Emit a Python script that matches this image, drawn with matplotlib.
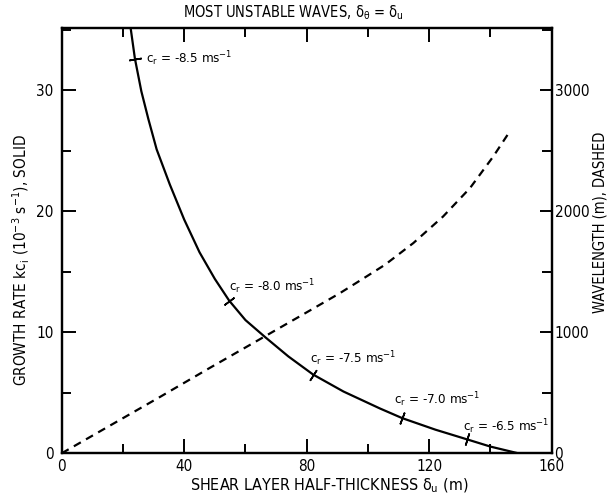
import numpy as np
import matplotlib
matplotlib.use("Agg")
import matplotlib.pyplot as plt
from matplotlib import font_manager as fm
from matplotlib.ticker import MultipleLocator

# pick a narrow lettering font if one is around
def pick_font():
    for fam, stretch in [('Liberation Sans Narrow', 'normal'),
                         ('DejaVu Sans', 'condensed')]:
        try:
            f = fm.findfont(fm.FontProperties(family=fam, stretch=stretch),
                            fallback_to_default=False)
        except ValueError:
            continue
        if 'Narrow' in f or 'Condensed' in f:
            return fam, stretch
    return 'DejaVu Sans', 'normal'

fam, stretch = pick_font()
plt.rcParams['font.family'] = [fam, 'DejaVu Sans']
plt.rcParams['font.stretch'] = stretch
plt.rcParams['mathtext.default'] = 'regular'

# growth rate (solid), 10^-3 s^-1, vs shear layer half-thickness (m)
delta_solid = [22.3, 23.9, 26.0, 28.3, 31.0, 35.3, 40.0, 45.0, 50.0, 54.7,
               60.0, 66.4, 74.0, 82.1, 92.0, 103.9, 111.2, 122.0, 132.2,
               140.0, 149.0]
growth = [35.5, 32.6, 29.9, 27.6, 25.1, 22.2, 19.3, 16.6, 14.4, 12.6,
          11.0, 9.6, 8.0, 6.5, 5.1, 3.7, 2.9, 1.95, 1.16,
          0.55, 0.0]

# wavelength (dashed), m
delta_dash = [0, 16, 32, 48, 64.7, 78, 90.8, 98, 105.5, 114.8,
              124.5, 133.3, 140.9, 145.8]
wavelength = [0, 232, 464, 700, 942, 1135, 1322, 1436, 1556, 1736,
              1955, 2190, 2451, 2639]

# phase speed markers on the solid curve
cr_labels = ['-8.5', '-8.0', '-7.5', '-7.0', '-6.5']
cr_x = [23.9, 54.7, 82.1, 111.2, 132.2]
cr_y = [32.6, 12.6, 6.5, 2.9, 1.16]
cr_text_x = [27.6, 54.6, 81.0, 108.5, 131.0]
cr_text_y = [32.6, 13.8, 7.8, 4.45, 2.2]

fig = plt.figure(figsize=(6.11, 4.97), dpi=100)
ax = fig.add_axes([0.101, 0.088, 0.802, 0.855])
ax2 = ax.twinx()

ax.plot(delta_solid, growth, color='black', lw=1.6)
ax2.plot(delta_dash, wavelength, color='black', lw=1.6, dashes=(3.6, 2.7))

ax.set_xlim(0, 160)
ax.set_ylim(0, 35.1)
ax2.set_ylim(0, 3510)

ax.xaxis.set_major_locator(MultipleLocator(40))
ax.xaxis.set_minor_locator(MultipleLocator(20))
ax.yaxis.set_major_locator(MultipleLocator(10))
ax.yaxis.set_minor_locator(MultipleLocator(5))
ax2.yaxis.set_major_locator(MultipleLocator(1000))
ax2.yaxis.set_minor_locator(MultipleLocator(500))

ax.tick_params(which='both', direction='in', top=True, right=False,
               labelsize=11, width=1.4)
ax.tick_params(axis='y', pad=6)
ax.tick_params(axis='x', pad=4)
ax.tick_params(which='major', length=10)
ax.tick_params(which='minor', length=6.5)
ax2.tick_params(which='both', direction='in', labelsize=11, width=1.4, pad=2)
ax2.tick_params(which='major', length=9)
ax2.tick_params(which='minor', length=7)

for a in (ax, ax2):
    for s in a.spines.values():
        s.set_linewidth(1.6)

fig.canvas.draw()
pts = ax.transData.transform(np.column_stack([delta_solid, growth]))
for lab, x, y, tx, ty in zip(cr_labels, cr_x, cr_y, cr_text_x, cr_text_y):
    i = int(np.argmin(np.abs(np.array(delta_solid) - x)))
    i0, i1 = max(i - 1, 0), min(i + 1, len(delta_solid) - 1)
    d = pts[i1] - pts[i0]
    ang = np.degrees(np.arctan2(d[1], d[0]))
    ax.plot(x, y, marker=(2, 2, ang), ms=9, mew=1.2, color='black')
    ax.text(tx, ty, r'c$_r$ = ' + lab + r' ms$^{-1}$', fontsize=9.5,
            ha='left', va='center')

xl = ax.set_xlabel(r'SHEAR LAYER HALF-THICKNESS $\delta_u$ (m)', fontsize=11.5)
ax.xaxis.set_label_coords(0.545, -0.077)
xl.set_va('center')
yl = ax.set_ylabel(r'GROWTH RATE kc$_i$ (10$^{-3}$ s$^{-1}$), SOLID', fontsize=11)
ax.yaxis.set_label_coords(-0.083, 0.455)
yl.set(va='center', ha='center', rotation_mode='default')
yr = ax2.set_ylabel('WAVELENGTH (m), DASHED', fontsize=10.5)
ax2.yaxis.set_label_coords(1.098, 0.544)
yr.set(va='center', ha='center', rotation_mode='default')
ax.set_title(r'MOST UNSTABLE WAVES, $\delta_\theta$ = $\delta_u$', fontsize=10.5,
             x=0.472, y=1.036, va='center', pad=0)

# the zero labels on both vertical axes sit a little above the corner
fig.canvas.draw()
for a in (ax, ax2):
    a.yaxis.get_major_ticks()[0].label1.set_va('bottom')
    a.yaxis.get_major_ticks()[0].label2.set_va('bottom')

fig.savefig('out.png', dpi=100)
